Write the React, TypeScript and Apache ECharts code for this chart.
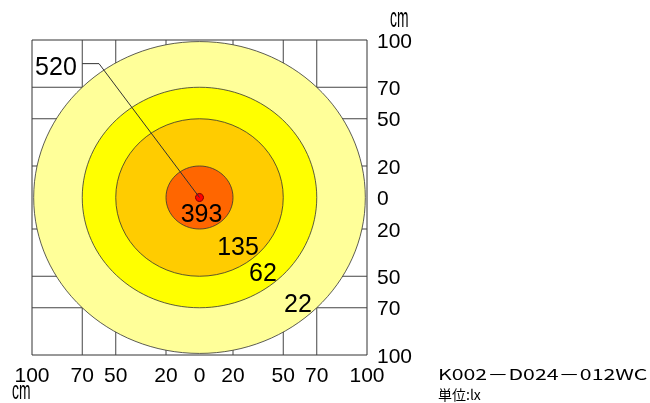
import React, { useEffect, useRef } from 'react';
import * as echarts from 'echarts';

// Axis ticks (cm)
const tickValues = [-100, -70, -50, -20, 0, 20, 50, 70, 100];
const gridLineValues = [-70, -50, -20, 20, 50, 70];

// Illuminance contours (radius in cm), outermost first
const contourRadii = [99, 70, 50, 20];
const contourColors = ['#FFFF99', '#FFFF00', '#FFCC00', '#FF6600'];

// Contour labels (lx) and where they sit (cm)
const contourLabels = ['22', '62', '135', '393'];
const contourLabelX = [58.8, 37.9, 23, 1.2];
const contourLabelY = [-67.3, -47, -30.8, -9.8];

// Centre (max) value with leader line
const maxLabel = '520';
const maxLabelX = -85.7;
const maxLabelY = 83.5;
const leaderX = [-70, -60, 0];
const leaderY = [85, 85, 0];

const modelName = 'K002－D024－012WC';
const unitText = '単位:lx';
const unitCm = 'cm';

const FONT = '"Liberation Sans", Arial, sans-serif';

export default function App() {
  const ref = useRef<HTMLDivElement>(null);

  useEffect(() => {
    if (!ref.current) return;
    const chart = echarts.init(ref.current, undefined, { renderer: 'svg' });

    const labelFmt = (v: number) => {
      const r = Math.round(v);
      return tickValues.includes(r) ? String(Math.abs(r)) : '';
    };

    const gridData: number[][] = [];
    gridLineValues.forEach((v) => gridData.push([v, 0]));
    gridLineValues.forEach((v) => gridData.push([v, 1]));

    const option: any = {
      animation: false,
      grid: {
        left: 32,
        top: 40,
        width: 335,
        height: 315,
        show: true,
        borderColor: '#333',
        borderWidth: 1,
        backgroundColor: 'transparent',
      },
      xAxis: {
        type: 'value',
        min: -100,
        max: 100,
        interval: 10,
        axisLine: { show: false },
        axisTick: { show: false },
        splitLine: { show: false },
        axisLabel: {
          formatter: labelFmt,
          fontSize: 21,
          color: '#000',
          fontFamily: FONT,
          margin: 9,
        },
      },
      yAxis: {
        type: 'value',
        position: 'right',
        min: -100,
        max: 100,
        interval: 10,
        axisLine: { show: false },
        axisTick: { show: false },
        splitLine: { show: false },
        axisLabel: {
          formatter: labelFmt,
          fontSize: 21,
          color: '#000',
          fontFamily: FONT,
          margin: 10,
          align: 'left',
        },
      },
      series: [
        {
          type: 'custom',
          z: 1,
          data: gridData,
          renderItem: (params: any, api: any) => {
            const v = api.value(0);
            const dir = api.value(1);
            const a = dir === 0 ? api.coord([v, -100]) : api.coord([-100, v]);
            const b = dir === 0 ? api.coord([v, 100]) : api.coord([100, v]);
            return {
              type: 'line',
              shape: { x1: a[0], y1: a[1], x2: b[0], y2: b[1] },
              style: { stroke: '#444', lineWidth: 1 },
            };
          },
        },
        {
          type: 'custom',
          z: 2,
          data: contourRadii.map((r) => [r]),
          renderItem: (params: any, api: any) => {
            const r = api.value(0);
            const c = api.coord([0, 0]);
            const s = api.size([r, r]);
            return {
              type: 'ellipse',
              shape: { cx: c[0], cy: c[1], rx: s[0], ry: s[1] },
              style: {
                fill: contourColors[params.dataIndex],
                stroke: '#333',
                lineWidth: 0.8,
              },
            };
          },
        },
        {
          type: 'custom',
          z: 3,
          data: [[0, 0]],
          renderItem: (params: any, api: any) => {
            const c = api.coord([api.value(0), api.value(1)]);
            const pts = leaderX.map((x, i) => api.coord([x, leaderY[i]]));
            return {
              type: 'group',
              children: [
                {
                  type: 'circle',
                  shape: { cx: c[0], cy: c[1], r: 4 },
                  style: { fill: '#FF0000', stroke: '#7a0000', lineWidth: 1 },
                },
                {
                  type: 'polyline',
                  shape: { points: pts },
                  style: { stroke: '#333', lineWidth: 1, fill: null },
                },
              ],
            };
          },
        },
        {
          type: 'custom',
          z: 4,
          data: contourLabelX.map((x, i) => [x, contourLabelY[i]]).concat([[maxLabelX, maxLabelY]]),
          renderItem: (params: any, api: any) => {
            const p = api.coord([api.value(0), api.value(1)]);
            const idx = params.dataIndex;
            const text = idx < contourLabels.length ? contourLabels[idx] : maxLabel;
            return {
              type: 'text',
              x: p[0],
              y: p[1],
              style: {
                text,
                fill: '#000',
                fontSize: 25,
                fontFamily: FONT,
                align: 'center',
                verticalAlign: 'middle',
              },
            };
          },
        },
      ],
      graphic: [
        {
          type: 'text',
          x: 390,
          y: 18,
          scaleX: 0.66,
          scaleY: 1.3,
          style: {
            text: unitCm,
            fill: '#000',
            fontSize: 21,
            fontFamily: FONT,
            align: 'left',
            verticalAlign: 'middle',
          },
        },
        {
          type: 'text',
          x: 12,
          y: 390,
          scaleX: 0.66,
          scaleY: 1.25,
          style: {
            text: unitCm,
            fill: '#000',
            fontSize: 21,
            fontFamily: FONT,
            align: 'left',
            verticalAlign: 'middle',
          },
        },
        {
          type: 'text',
          x: 438,
          y: 373.5,
          scaleX: 1.42,
          style: {
            text: modelName,
            fill: '#000',
            fontSize: 15,
            fontFamily: '"Noto Sans CJK JP", sans-serif',
            align: 'left',
            verticalAlign: 'middle',
          },
        },
        {
          type: 'text',
          x: 438,
          y: 387,
          style: {
            text: unitText,
            fill: '#000',
            fontSize: 14,
            fontFamily: '"Noto Sans CJK JP", sans-serif',
            align: 'left',
            verticalAlign: 'top',
          },
        },
      ],
    };

    chart.setOption(option);
    return () => chart.dispose();
  }, []);

  return (
    <div
      ref={ref}
      style={{ position: 'fixed', left: 0, top: 0, width: 650, height: 403 }}
    />
  );
}
